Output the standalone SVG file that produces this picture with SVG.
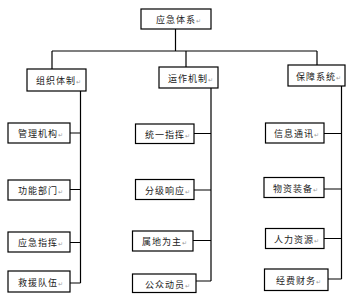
<svg xmlns="http://www.w3.org/2000/svg" width="357" height="300" viewBox="0 0 357 300">
<style>
.b{fill:#fff;stroke:#000;stroke-width:1.2}
.t{font-family:"Noto Sans CJK SC","Noto Sans CJK JP",sans-serif;font-size:9px;fill:#222;letter-spacing:1px}
.m{font-family:"DejaVu Sans",sans-serif;font-size:6px;fill:#999;letter-spacing:0}
.c{fill:none;stroke:#000;stroke-width:1.2}
</style>
<rect width="357" height="300" fill="#fff"/>
<g id="connectors">
<path class="c" d="M175.5 29V51M52 51H317M52 51V69M186 51V67M317 51V65"/>
<path class="c" d="M80.5 91V283M70 133H80.5M70 189.5H80.5M70 242.5H80.5M70 283H80.5"/>
<path class="c" d="M211 88V281M194 133.5H211M194 190H211M193 240.5H211M196 281H211"/>
<path class="c" d="M341.5 86V279M324 133.5H341.5M324 189H341.5M324 238.5H341.5M328 279H341.5"/>
</g>
<g id="n0"><rect class="b" x="141" y="9" width="70" height="20"/><text class="t" x="156" y="23">应急体系<tspan class="m">↵</tspan></text></g>
<g id="n1"><rect class="b" x="27" y="69" width="59" height="22"/><text class="t" x="36" y="84">组织体制<tspan class="m">↵</tspan></text></g>
<g id="n2"><rect class="b" x="159" y="67" width="59" height="21"/><text class="t" x="168" y="81.5">运作机制<tspan class="m">↵</tspan></text></g>
<g id="n3"><rect class="b" x="288" y="65" width="57" height="21"/><text class="t" x="296" y="79.5">保障系统<tspan class="m">↵</tspan></text></g>
<g id="n4"><rect class="b" x="8" y="123" width="62" height="20"/><text class="t" x="18" y="137">管理机构<tspan class="m">↵</tspan></text></g>
<g id="n5"><rect class="b" x="8" y="180" width="62" height="20"/><text class="t" x="18" y="194">功能部门<tspan class="m">↵</tspan></text></g>
<g id="n6"><rect class="b" x="8" y="232" width="62" height="20"/><text class="t" x="18" y="246">应急指挥<tspan class="m">↵</tspan></text></g>
<g id="n7"><rect class="b" x="8" y="271" width="62" height="21"/><text class="t" x="18" y="285.5">救援队伍<tspan class="m">↵</tspan></text></g>
<g id="n8"><rect class="b" x="135.5" y="124" width="58.5" height="19.5"/><text class="t" x="145" y="138">统一指挥<tspan class="m">↵</tspan></text></g>
<g id="n9"><rect class="b" x="135.5" y="179.5" width="58.5" height="20"/><text class="t" x="145" y="193.5">分级响应<tspan class="m">↵</tspan></text></g>
<g id="n10"><rect class="b" x="132.5" y="231" width="60.5" height="20"/><text class="t" x="142" y="245">属地为主<tspan class="m">↵</tspan></text></g>
<g id="n11"><rect class="b" x="132.5" y="274" width="63.5" height="18.5"/><text class="t" x="145" y="287.5">公众动员<tspan class="m">↵</tspan></text></g>
<g id="n12"><rect class="b" x="265.5" y="123" width="58.5" height="20"/><text class="t" x="274" y="137">信息通讯<tspan class="m">↵</tspan></text></g>
<g id="n13"><rect class="b" x="264" y="177.5" width="60" height="20"/><text class="t" x="273" y="191.5">物资装备<tspan class="m">↵</tspan></text></g>
<g id="n14"><rect class="b" x="265.5" y="228.5" width="58.5" height="20"/><text class="t" x="274" y="242.5">人力资源<tspan class="m">↵</tspan></text></g>
<g id="n15"><rect class="b" x="264.5" y="269" width="63.5" height="21.5"/><text class="t" x="276" y="283.5">经费财务<tspan class="m">↵</tspan></text></g>
</svg>
